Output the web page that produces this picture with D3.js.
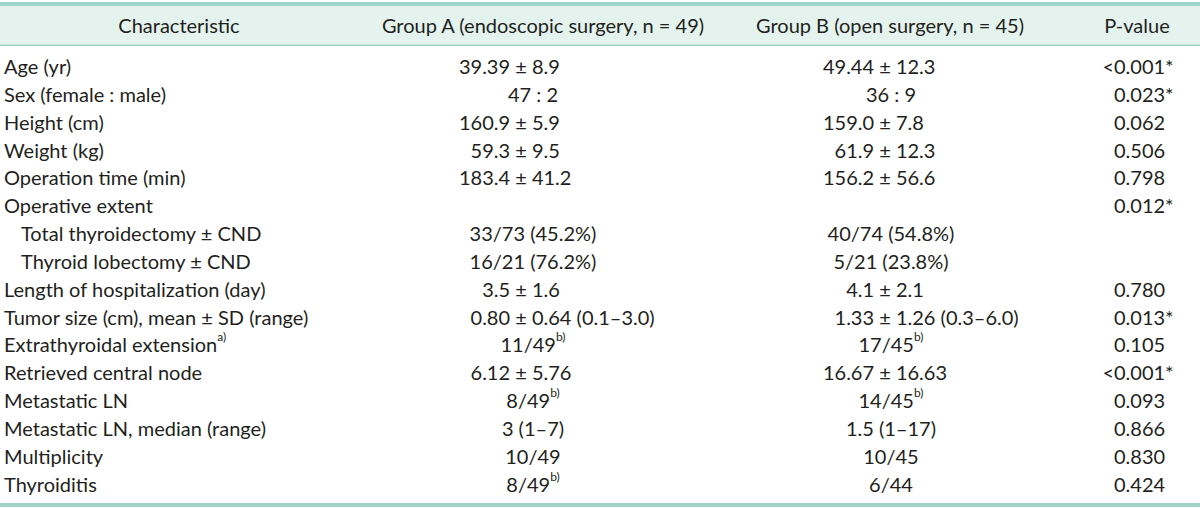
<!DOCTYPE html>
<html>
<head>
<meta charset="utf-8">
<script src="https://cdn.jsdelivr.net/npm/d3@7"></script>
<style>
  html, body { margin: 0; padding: 0; background: #fff; }
  svg { display: block; }
</style>
</head>
<body>
<svg id="chart" width="1200" height="508"></svg>
<script>
// ---- data ----
const headers = ["Characteristic", "Group A (endoscopic surgery, n = 49)", "Group B (open surgery, n = 45)", "P-value"];
const characteristics = [
  "Age (yr)", "Sex (female : male)", "Height (cm)", "Weight (kg)", "Operation time (min)",
  "Operative extent", "Total thyroidectomy ± CND", "Thyroid lobectomy ± CND",
  "Length of hospitalization (day)", "Tumor size (cm), mean ± SD (range)",
  "Extrathyroidal extension^a)", "Retrieved central node", "Metastatic LN",
  "Metastatic LN, median (range)", "Multiplicity", "Thyroiditis"
];
const subRows = ["Total thyroidectomy ± CND", "Thyroid lobectomy ± CND"];
const groupA = [
  "39.39 ± 8.9", "47 : 2", "160.9 ± 5.9", "59.3 ± 9.5", "183.4 ± 41.2", "",
  "33/73 (45.2%)", "16/21 (76.2%)", "3.5 ± 1.6", "0.80 ± 0.64 (0.1–3.0)",
  "11/49^b)", "6.12 ± 5.76", "8/49^b)", "3 (1–7)", "10/49", "8/49^b)"
];
const groupB = [
  "49.44 ± 12.3", "36 : 9", "159.0 ± 7.8", "61.9 ± 12.3", "156.2 ± 56.6", "",
  "40/74 (54.8%)", "5/21 (23.8%)", "4.1 ± 2.1", "1.33 ± 1.26 (0.3–6.0)",
  "17/45^b)", "16.67 ± 16.63", "14/45^b)", "1.5 (1–17)", "10/45", "6/44"
];
const pValues = [
  "<0.001*", "0.023*", "0.062", "0.506", "0.798", "0.012*", "", "",
  "0.780", "0.013*", "0.105", "<0.001*", "0.093", "0.866", "0.830", "0.424"
];

// ---- layout ----
const W = 1200, H = 508;
const FONT = "Lato, 'Open Sans', sans-serif";
const FS = 20;
const textColor = "#231f20";
const ruleColor = "#a2d5c8";
const headFill = "#e4f3ee";

const svg = d3.select("#chart");

const y = d3.scalePoint().domain(d3.range(characteristics.length)).range([66, 483.5]);
const headerX = d3.scaleOrdinal().domain(headers).range([179, 543, 890, 1137]);

// header background and rules
svg.append("rect").attr("x", 0).attr("y", 6).attr("width", W).attr("height", 39).attr("fill", headFill);
svg.append("rect").attr("x", 0).attr("y", 2).attr("width", W).attr("height", 4).attr("fill", ruleColor);
svg.append("rect").attr("x", 0).attr("y", 44.5).attr("width", W).attr("height", 1.5).attr("fill", ruleColor);
svg.append("rect").attr("x", 0).attr("y", 503).attr("width", W).attr("height", 4).attr("fill", ruleColor);

const base = (sel) => sel.attr("font-family", FONT).attr("font-size", FS).attr("fill", textColor)
  .attr("dominant-baseline", "central");

// header texts
svg.append("g").selectAll("text").data(headers).join("text")
  .call(base)
  .attr("x", d => headerX(d)).attr("y", 25).attr("text-anchor", "middle")
  .text(d => d);

// helper writing text with optional superscript marked by ^
function writeText(sel, s) {
  const parts = s.split("^");
  sel.append("tspan").text(parts[0]);
  if (parts[1]) {
    sel.append("tspan").attr("font-size", 12).attr("dy", -8).text(parts[1]);
  }
}

// characteristic column
const cg = svg.append("g");
characteristics.forEach((c, i) => {
  const t = cg.append("text").call(base)
    .attr("x", subRows.includes(c) ? 21 : 4).attr("y", y(i)).attr("text-anchor", "start");
  writeText(t, c);
});

// value columns: "±" cells align on the ± sign; others centred
function valueColumn(values, pmX, centerX) {
  const g = svg.append("g");
  values.forEach((v, i) => {
    if (!v) return;
    const t = g.append("text").call(base).attr("y", y(i));
    writeText(t, v);
    const idx = v.indexOf("±");
    if (idx >= 0 && !v.includes("^")) {
      t.attr("text-anchor", "start").attr("x", 0);
      const node = t.node();
      const pre = node.getSubStringLength(0, idx);
      const pmW = node.getSubStringLength(idx, 1);
      t.attr("x", pmX - pre - pmW / 2);
    } else {
      t.attr("text-anchor", "middle").attr("x", centerX);
    }
  });
}
valueColumn(groupA, 521, 533);
valueColumn(groupB, 885, 891);

// p-values: digits start aligned, "<" hangs left
const pg = svg.append("g");
pValues.forEach((p, i) => {
  if (!p) return;
  const t = pg.append("text").call(base).attr("y", y(i)).attr("text-anchor", "start").attr("x", 0).text(p);
  const lead = p.startsWith("<") ? t.node().getSubStringLength(0, 1) : 0;
  t.attr("x", 1114 - lead);
});
</script>
</body>
</html>
